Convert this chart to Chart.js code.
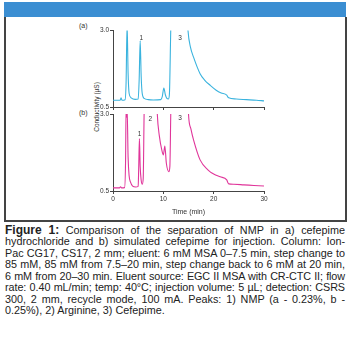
<!DOCTYPE html>
<html>
<head>
<meta charset="utf-8">
<script src="https://cdn.jsdelivr.net/npm/chart.js@4.4.0/dist/chart.umd.min.js"></script>
<style>
  body { margin: 0; width: 350px; height: 341px; background: #fff; position: relative; overflow: hidden;
         font-family: "Liberation Sans", Arial, sans-serif; }
  #bar { position: absolute; left: 4px; top: 2px; width: 342px; height: 15px; background: #3b8ed2; }
  #frame { position: absolute; left: 4px; top: 17px; width: 339px; height: 203px;
           border: 2px solid #444; border-top: none; }
  canvas { position: absolute; }
  .tag { position: absolute; font-size: 7px; color: #333; }
  #ytitle { position: absolute; left: 96px; top: 107px; font-size: 6.5px; color: #333; white-space: nowrap;
            transform: translate(-50%, -50%) rotate(-90deg); }
  #caption { position: absolute; left: 5px; top: 225px; width: 340px; font-size: 10.8px; line-height: 11.45px; color: #222; }
  #caption div { text-align: justify; text-align-last: justify; height: 11.45px; }
  #caption div.last { text-align-last: left; }
  #caption b { font-size: 12px; }
  #measure { position: absolute; visibility: hidden; white-space: nowrap; font-size: 10.8px; }
  #measure b { font-size: 12px; }
</style>
</head>
<body>
<div id="bar"></div>
<div id="frame"></div>
<div class="tag" style="left:79px; top:22px;">(a)</div>
<div class="tag" style="left:79px; top:109px;">(b)</div>
<div id="ytitle">Conductivity (µS)</div>
<canvas id="chart-a" width="200" height="100" style="left:80px; top:20px;"></canvas>
<canvas id="chart-b" width="200" height="115" style="left:80px; top:105px;"></canvas>
<div id="caption">
  <div><b>Figure 1:</b> Comparison of the separation of NMP in a) cefepime</div>
  <div>hydrochloride and b) simulated cefepime for injection. Column: Ion-</div>
  <div>Pac CG17, CS17, 2 mm; eluent: 6 mM MSA 0–7.5 min, step change to</div>
  <div>85 mM, 85 mM from 7.5–20 min, step change back to 6 mM at 20 min,</div>
  <div>6 mM from 20–30 min. Eluent source: EGC II MSA with CR-CTC II; flow</div>
  <div>rate: 0.40 mL/min; temp: 40°C; injection volume: 5 µL; detection: CSRS</div>
  <div>300, 2 mm, recycle mode, 100 mA. Peaks: 1) NMP (a - 0.23%, b -</div>
  <div class="last">0.25%), 2) Arginine, 3) Cefepime.</div>
</div>
<span id="measure"></span>
<script>
// (a) cefepime hydrochloride
const timeA = [0, 1.4, 1.6, 1.8, 2.4, 2.6, 2.8, 3.0, 3.2, 3.6, 4.4, 5.0, 5.2, 5.4, 5.6, 5.8, 6.2, 7.0, 8.0,
  9.5, 9.8, 10.1, 10.4, 10.7, 11.0, 11.2, 11.5, 11.7, 14.6, 14.9, 15.4, 16.0, 17.3, 18.2, 19.3, 20.5, 21.5,
  22.6, 22.8, 23.0, 24.5, 26.5, 28.5, 30];
const condA = [0.72, 0.72, 0.80, 0.72, 0.74, 1.3, 3.2, 1.6, 0.95, 0.80, 0.75, 0.76, 1.4, 2.66, 1.5, 0.95, 0.78, 0.74, 0.73,
  0.74, 0.85, 1.12, 0.90, 0.78, 0.76, 0.90, 3.2, 4.0, 4.0, 3.0, 2.45, 2.13, 1.59, 1.38, 1.21, 1.05, 0.96,
  0.89, 0.83, 0.80, 0.76, 0.74, 0.72, 0.70];

// (b) simulated cefepime for injection
const timeB = [0, 1.3, 1.5, 1.7, 2.3, 2.5, 2.6, 2.7, 2.8, 3.0, 3.2, 3.5, 3.9, 4.5, 5.0, 5.1, 5.25, 5.4, 5.6, 5.8,
  6.0, 6.2, 6.4, 8.6, 8.8, 9.2, 9.7, 10.0, 10.3, 10.6, 11.1, 11.3, 11.5, 11.7, 14.8, 15.0, 15.5, 16.0, 17.3,
  18.9, 20.0, 21.3, 22.6, 22.8, 23.0, 24.0, 26.0, 28.0, 30];
const condB = [0.60, 0.60, 0.64, 0.60, 0.61, 1.5, 3.2, 2.9, 3.2, 1.6, 1.0, 0.78, 0.66, 0.63, 0.65, 1.2, 2.2, 1.3, 0.85, 0.72,
  0.9, 3.2, 4.0, 4.0, 3.0, 2.3, 1.83, 1.67, 1.96, 1.40, 1.13, 1.3, 3.2, 4.0, 4.0, 3.0, 2.5, 2.16, 1.51,
  1.18, 1.05, 0.96, 0.86, 0.78, 0.73, 0.72, 0.70, 0.68, 0.66];

const yTicks = [0.5, 3.0];
const peakLabelsA = [{ t: 5.6, v: 2.74, text: "1" }, { t: 13.3, v: 2.74, text: "3" }];
const peakLabelsB = [{ t: 5.3, v: 2.34, text: "1" }, { t: 7.4, v: 2.83, text: "2" }, { t: 13.3, v: 2.86, text: "3" }];

// squeeze caption lines that would otherwise wrap
const measure = document.getElementById("measure");
document.querySelectorAll("#caption div").forEach((line) => {
  measure.innerHTML = line.innerHTML;
  const w = measure.getBoundingClientRect().width;
  if (w > 336) {
    line.style.letterSpacing = ((336 - w) / line.textContent.length).toFixed(3) + "px";
  }
});

const axisColor = "#444";
const tickFont = { family: "Liberation Sans", size: 6.5 };

const peakLabels = {
  id: "peakLabels",
  afterDatasetsDraw(chart, args, opts) {
    const c = chart.ctx;
    c.save();
    c.font = "6.5px Liberation Sans";
    c.fillStyle = "#333";
    c.textAlign = "center";
    c.textBaseline = "middle";
    opts.items.forEach((p) => {
      c.fillText(p.text, chart.scales.x.getPixelForValue(p.t), chart.scales.y.getPixelForValue(p.v));
    });
    c.restore();
  },
};

function makeChart(id, times, values, color, labels, showX, xHeight, pad) {
  return new Chart(document.getElementById(id).getContext("2d"), {
    type: "line",
    data: {
      datasets: [{
        data: times.map((t, i) => ({ x: t, y: values[i] })),
        borderColor: color,
        borderWidth: 1.1,
        pointRadius: 0,
        cubicInterpolationMode: "monotone",
      }],
    },
    options: {
      responsive: false,
      animation: false,
      events: [],
      layout: { padding: pad },
      plugins: { legend: { display: false }, tooltip: { enabled: false }, peakLabels: { items: labels } },
      scales: {
        x: {
          type: "linear", min: 0, max: 30,
          afterFit: (s) => { s.height = xHeight; },
          ticks: { display: showX, stepSize: 10, font: tickFont, color: "#333", padding: 1, maxRotation: 0 },
          grid: { drawOnChartArea: false, drawTicks: true, tickLength: 3, color: axisColor },
          border: { color: axisColor, width: 1 },
          title: { display: showX, text: "Time (min)", font: { family: "Liberation Sans", size: 7 }, color: "#333",
                   padding: { top: 0, bottom: 4 } },
        },
        y: {
          min: 0.5, max: 3.0,
          afterFit: (s) => { s.width = 22; },
          afterBuildTicks: (s) => { s.ticks = yTicks.map((v) => ({ value: v })); },
          ticks: { font: tickFont, color: "#333", padding: 1, callback: (v) => v.toFixed(1) },
          grid: { drawOnChartArea: false, drawTicks: true, tickLength: 3, color: axisColor },
          border: { color: axisColor, width: 1 },
        },
      },
    },
    plugins: [peakLabels],
  });
}

makeChart("chart-a", timeA, condA, "#3ab3de", peakLabelsA, false, 13, { left: 11, right: 16, top: 10.5, bottom: 0 });
makeChart("chart-b", timeB, condB, "#e0359a", peakLabelsB, true, 29, { left: 11, right: 16, top: 9, bottom: 0 });
</script>
</body>
</html>
